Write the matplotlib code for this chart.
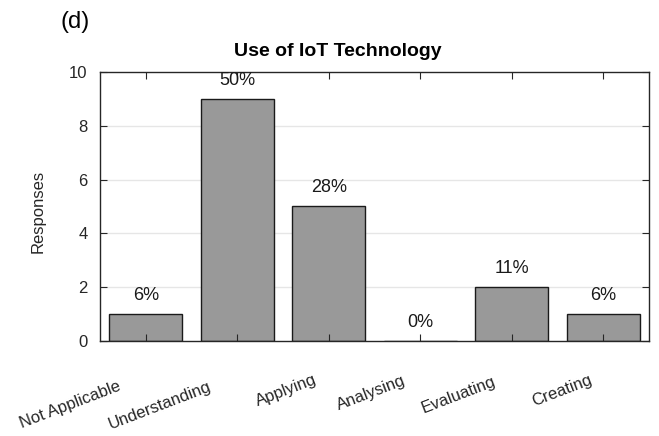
import matplotlib
matplotlib.use("Agg")
import matplotlib.pyplot as plt
import matplotlib.transforms as mtransforms

plt.rcParams['font.family'] = ['Liberation Sans', 'DejaVu Sans']

categories = ['Not Applicable', 'Understanding', 'Applying', 'Analysing', 'Evaluating', 'Creating']
responses = [1, 9, 5, 0, 2, 1]
percent_labels = ['6%', '50%', '28%', '0%', '11%', '6%']

fig = plt.figure(figsize=(6.59, 4.36), dpi=100)
ax = fig.add_axes([100 / 659, 1 - 341 / 436, 549 / 659, 269 / 436])

x = list(range(len(categories)))
ax.bar(x, responses, width=0.8, color='#999999', edgecolor='#1a1a1a', linewidth=1.0, zorder=1)

for xi, v, lab in zip(x, responses, percent_labels):
    ax.text(xi, v + 0.7, lab, ha='center', va='center', fontsize=13, color='#1a1a1a')

ax.set_xlim(-0.5, len(categories) - 0.5)
ax.set_ylim(0, 10)
ax.set_yticks([0, 2, 4, 6, 8, 10])
ax.set_xticks(x)

# grid behind the bars, ticks stay on top
for yv in ax.get_yticks()[1:-1]:
    ax.axhline(yv, color='#e6e6e6', linewidth=1.0, zorder=0)

ax.tick_params(direction='in', length=5, width=0.8, colors='#262626', labelsize=12,
               top=True, right=True, pad=9)
for s in ax.spines.values():
    s.set_color('#262626')
    s.set_linewidth(1.0)

ax.set_xticklabels(categories, rotation=21, ha='right', va='top', rotation_mode='anchor',
                   color='#262626')

# slide each label down-left along its baseline, longer labels further
fig.canvas.draw()
renderer = fig.canvas.get_renderer()
for t in ax.get_xticklabels():
    w = t.get_window_extent(renderer).width
    off = 0.35 * w - 10
    shift = mtransforms.ScaledTranslation((-2 - off) / 100, (-13 - 0.45 * off) / 100,
                                          fig.dpi_scale_trans)
    t.set_transform(t.get_transform() + shift)

ax.set_ylabel('Responses', fontsize=12, color='#262626')
ax.yaxis.set_label_coords(-54 / 549, 0.48)

fig.text(338 / 659, 1 - 52 / 436, 'Use of IoT Technology', ha='center', va='center',
         fontsize=14, fontweight='bold', color='black')
fig.text(75 / 659, 1 - 22 / 436, '(d)', ha='center', va='center', fontsize=17, color='black')

fig.savefig('out.png', dpi=100)
